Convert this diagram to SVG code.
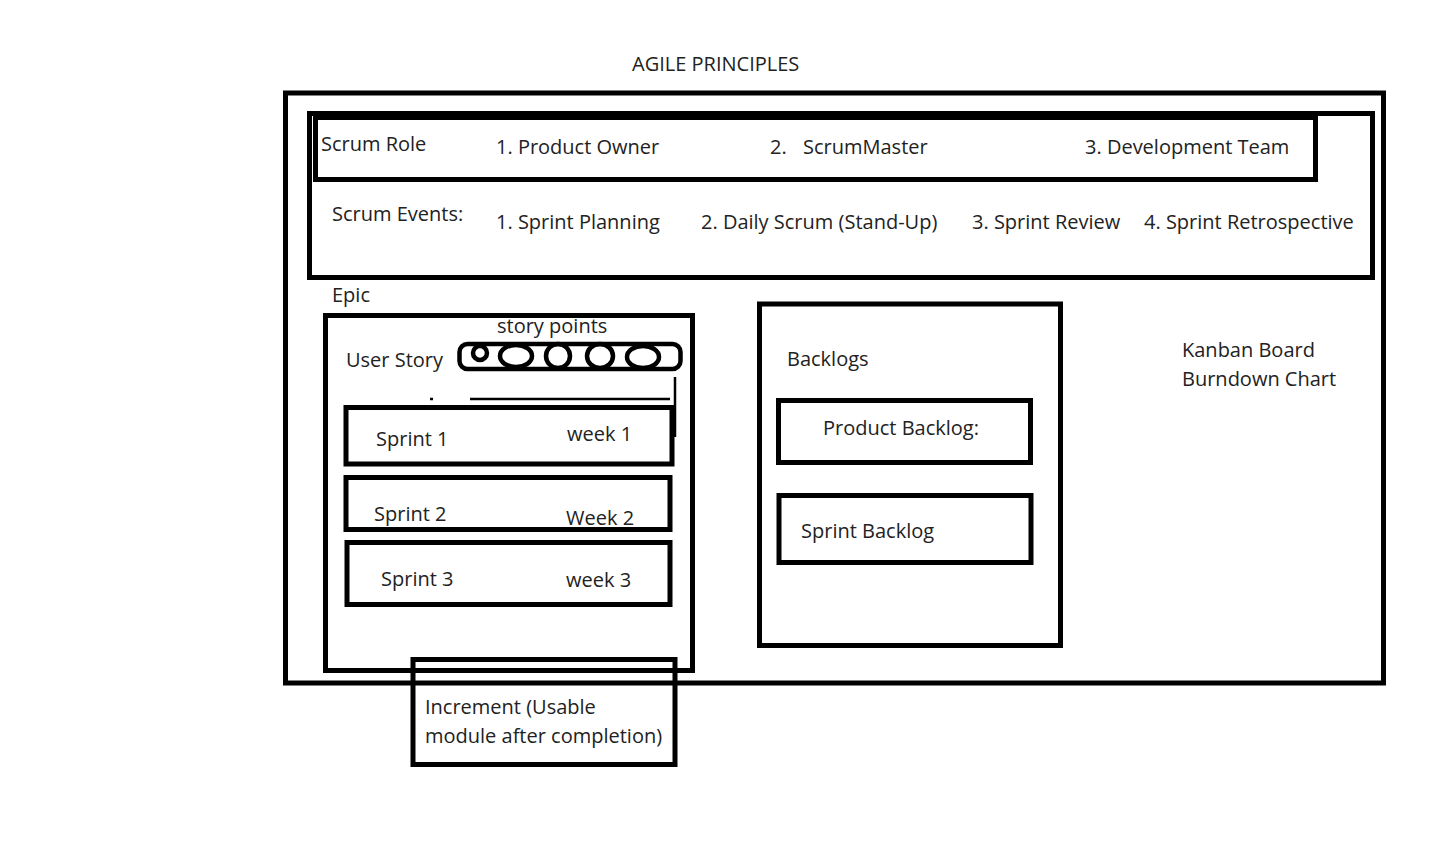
<svg xmlns="http://www.w3.org/2000/svg" width="1448" height="856" viewBox="0 0 1448 856">
<style>
.b{fill:none;stroke:#000;stroke-width:5}
.t{font-family:"Open Sans","Noto Sans","Liberation Sans",sans-serif;font-size:20px;fill:#222}
</style>
<rect x="0" y="0" width="1448" height="856" fill="#fff"/>
<text class="t" x="632" y="71">AGILE PRINCIPLES</text>
<g id="main"><rect class="b" x="285.5" y="93" width="1098" height="590"/></g>
<g id="scrum-events">
<rect class="b" x="309.5" y="113.5" width="1063" height="164"/>
<text class="t" x="332" y="221">Scrum Events:</text>
<text class="t" x="496" y="229">1. Sprint Planning</text>
<text class="t" x="701" y="229">2. Daily Scrum (Stand-Up)</text>
<text class="t" x="972" y="229">3. Sprint Review</text>
<text class="t" x="1144" y="229">4. Sprint Retrospective</text>
</g>
<g id="scrum-role">
<rect class="b" x="315.5" y="117.5" width="1000" height="62"/>
<text class="t" x="321" y="151">Scrum Role</text>
<text class="t" x="496" y="154">1. Product Owner</text>
<text class="t" x="770" y="154">2.<tspan x="803">ScrumMaster</tspan></text>
<text class="t" x="1085" y="154">3. Development Team</text>
</g>
<g id="epic">
<text class="t" x="332" y="302">Epic</text>
<rect class="b" x="325.5" y="315.5" width="367" height="355"/>
<text class="t" x="346" y="367">User Story</text>
<text class="t" x="497" y="333">story points</text>
<g id="story-points" fill="none" stroke="#000" stroke-width="4.5">
<rect x="459.5" y="344" width="221" height="25" rx="8"/>
<circle cx="480" cy="353" r="7"/>
<ellipse cx="516" cy="356" rx="16" ry="11"/>
<ellipse cx="558" cy="356" rx="12" ry="12"/>
<ellipse cx="600" cy="356" rx="13" ry="12"/>
<ellipse cx="643" cy="357" rx="16" ry="11"/>
</g>
<path d="M470 399H670M430 399h3M675 377V437" fill="none" stroke="#000" stroke-width="2.5"/>
</g>
<g id="sprint1"><rect class="b" x="346" y="407.5" width="326" height="56.5"/>
<text class="t" x="376" y="446">Sprint 1</text><text class="t" x="567" y="441">week 1</text></g>
<g id="sprint2"><rect class="b" x="346" y="477.5" width="324" height="52"/>
<text class="t" x="374" y="521">Sprint 2</text><text class="t" x="566" y="525">Week 2</text></g>
<g id="sprint3"><rect class="b" x="347" y="542.5" width="323" height="62"/>
<text class="t" x="381" y="586">Sprint 3</text><text class="t" x="566" y="587">week 3</text></g>
<g id="increment"><rect class="b" x="413" y="659.5" width="262" height="105"/>
<text class="t" x="425" y="714">Increment (Usable</text>
<text class="t" x="425" y="743">module after completion)</text></g>
<g id="backlogs">
<rect class="b" x="759.5" y="304" width="301" height="341.5"/>
<text class="t" x="787" y="366">Backlogs</text>
</g>
<g id="product-backlog"><rect class="b" x="778.5" y="400.5" width="252" height="62"/>
<text class="t" x="823" y="435">Product Backlog:</text></g>
<g id="sprint-backlog"><rect class="b" x="779" y="495.5" width="252" height="67"/>
<text class="t" x="801" y="538">Sprint Backlog</text></g>
<g id="tools">
<text class="t" x="1182" y="357">Kanban Board</text>
<text class="t" x="1182" y="386">Burndown Chart</text>
</g>
<g id="connectors"></g>
</svg>
